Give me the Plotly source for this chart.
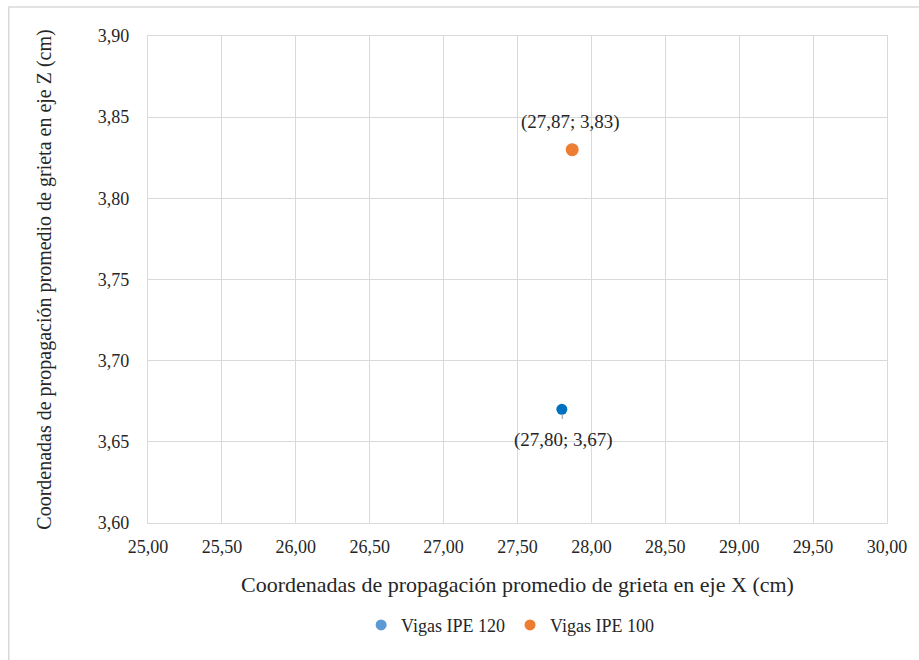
import plotly.graph_objects as go

# Average crack propagation coordinates per beam type
series = ["Vigas IPE 120", "Vigas IPE 100"]
x_vals = [27.80, 27.87]
z_vals = [3.67, 3.83]
point_colors = ["#0070C0", "#ED7D31"]
legend_colors = ["#5B9BD5", "#ED7D31"]
marker_sizes = [11, 13]
label_offsets = [(2, 31), (-2, -28)]  # (ax, ay) in pixels for data labels

x_ticks = [25.0, 25.5, 26.0, 26.5, 27.0, 27.5, 28.0, 28.5, 29.0, 29.5, 30.0]
z_ticks = [3.60, 3.65, 3.70, 3.75, 3.80, 3.85, 3.90]

FONT = "Liberation Serif"
GRID = "#D9D9D9"
TXT = "#262626"

fig = go.Figure()

for name, x, z, c, s in zip(series, x_vals, z_vals, point_colors, marker_sizes):
    fig.add_trace(go.Scatter(
        x=[x], y=[z], mode="markers", name=name, showlegend=False,
        marker=dict(color=c, size=s), hoverinfo="skip",
    ))

# legend entries
for name, c in zip(series, legend_colors):
    fig.add_trace(go.Scatter(
        x=[None], y=[None], mode="markers", name=name,
        marker=dict(color=c, size=11),
    ))

for x, z, (ax, ay) in zip(x_vals, z_vals, label_offsets):
    fig.add_annotation(
        x=x, y=z, xref="x", yref="y",
        text=f"({x:.2f}; {z:.2f})".replace(".", ","),
        showarrow=True, arrowhead=0, arrowwidth=1.2, arrowcolor="#A6A6A6",
        ax=ax, ay=ay, standoff=5, startstandoff=9,
        font=dict(family=FONT, size=19, color=TXT),
    )

# outer chart border
fig.add_shape(
    type="rect", xref="paper", yref="paper",
    x0=-0.1884, x1=1.06, y0=-0.35, y1=1.0595,
    line=dict(color="#D9D9D9", width=1.5), fillcolor="rgba(0,0,0,0)",
    layer="below",
)

fig.update_layout(
    width=919, height=660,
    margin=dict(l=148, r=28, t=36, b=137),
    paper_bgcolor="white", plot_bgcolor="white",
    separators=",.",
    font=dict(family=FONT, size=18, color=TXT),
    legend=dict(
        orientation="h", x=0.49, xanchor="center", y=-0.21, yanchor="middle",
        font=dict(family=FONT, size=18, color=TXT),
        itemwidth=30, tracegroupgap=0,
    ),
    xaxis=dict(
        range=[25, 30], tickvals=x_ticks, tickformat=".2f",
        showgrid=True, gridcolor=GRID, gridwidth=1.3,
        showline=True, linecolor=GRID, linewidth=1.3, mirror=True,
        zeroline=False, ticks="", ticklabelstandoff=7,
        tickfont=dict(family=FONT, size=18, color=TXT),
        title=dict(text="Coordenadas de propagación promedio de grieta en eje X (cm)",
                   font=dict(family=FONT, size=22, color=TXT), standoff=20),
    ),
    yaxis=dict(
        range=[3.60, 3.90], tickvals=z_ticks, tickformat=".2f",
        showgrid=True, gridcolor=GRID, gridwidth=1.3,
        showline=True, linecolor=GRID, linewidth=1.3, mirror=True,
        zeroline=False, ticks="", ticklabelstandoff=14,
        tickfont=dict(family=FONT, size=18, color=TXT),
        title=dict(text="Coordenadas de propagación promedio de grieta en eje Z (cm)",
                   font=dict(family=FONT, size=20, color=TXT), standoff=40),
    ),
)

fig.write_html("out.html")
